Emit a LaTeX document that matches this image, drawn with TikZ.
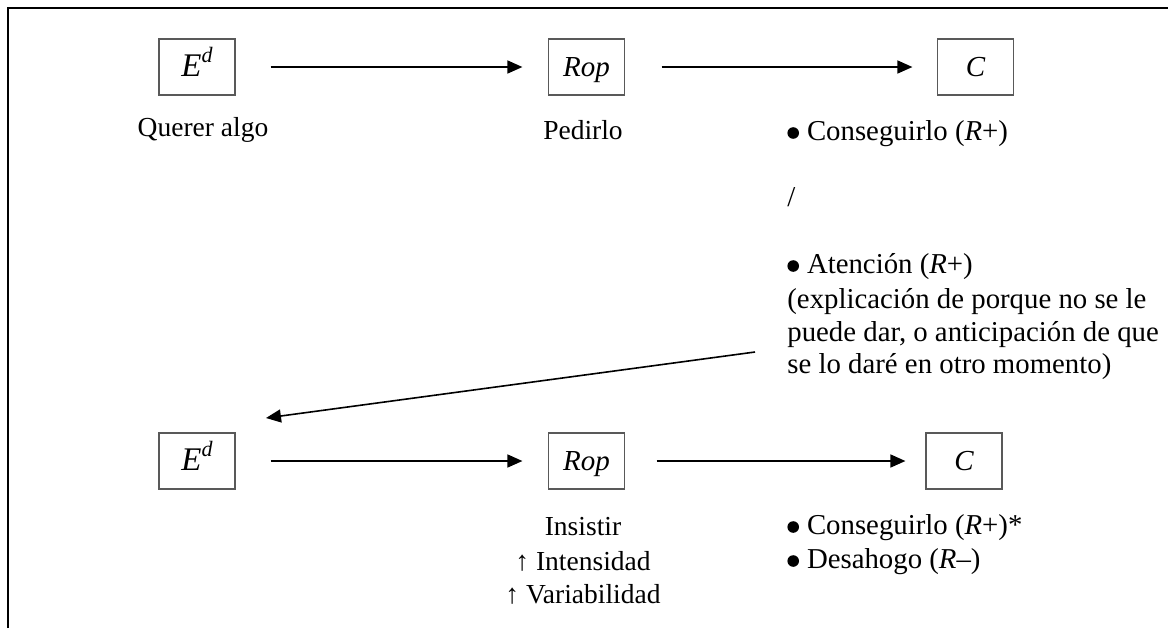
\documentclass[tikz,border=0pt]{standalone}
\usepackage{fontspec}
\setmainfont{Liberation Serif}
\usetikzlibrary{arrows.meta}

\newcommand{\Edes}{{\fontsize{16.5}{18}\selectfont E\raisebox{0.42em}{\fontsize{11}{12}\selectfont d}}}
% round list bullet followed by its gap
\newcommand{\blt}{\tikz[baseline=0pt,x=1pt,y=1pt]\fill (2.9,3.5) circle[radius=2.9];\hspace{4pt}}

\begin{document}
\begin{tikzpicture}[x=0.5pt,y=-0.5pt,
  stage/.style={draw=black!65, line width=0.6pt, minimum width=38pt, minimum height=28pt,
    inner sep=0pt, text height=9pt, text depth=0pt, font=\fontsize{14.5}{16}\selectfont\itshape},
  txt/.style={inner sep=0pt, font=\fontsize{13.75}{16}\selectfont},
  rtxt/.style={inner sep=0pt, anchor=base west, font=\fontsize{14.4}{16}\selectfont},
  flow/.style={line width=0.8pt, -{Triangle[length=7.5pt,width=6.5pt]}}
]
\useasboundingbox (0,0) rectangle (1168,628);
% frame
\draw[line width=1.2pt] (8,628) -- (8,8) -- (1168,8);

% first sequence
\node[stage] (e1) at (197,67) {\Edes};
\node[stage] (r1) at (586.5,67) {Rop};
\node[stage] (c1) at (975.5,67) {C};

\node[txt, anchor=base] (q1) at (203,136) {Querer algo};
\node[txt, anchor=base] (p1) at (583,139) {Pedirlo};
\node[rtxt] (o1) at (787,140) {\blt Conseguirlo (\textit{R}+)};
\node[rtxt] (sl) at (787,206) {/};
\node[rtxt] (o2) at (787,273) {\blt Atención (\textit{R}+)};
\node[rtxt] (o2a) at (787,308) {(explicación de porque no se le};
\node[rtxt] (o2b) at (787,341) {puede dar, o anticipación de que};
\node[rtxt] (o2c) at (787,373) {se lo daré en otro momento)};

\draw[flow, shorten <=17.5pt, shorten >=12.75pt] (e1.east) -- (r1.west);
\draw[flow, shorten <=18.25pt, shorten >=12.25pt] (r1.east) -- (c1.west);

% second sequence
\node[stage] (e2) at (197,461) {\Edes};
\node[stage] (r2) at (586.5,461) {Rop};
\node[stage] (c2) at (964,461) {C};

\node[txt, anchor=base] (i1) at (583,535) {Insistir};
\node[txt, anchor=base] (i2) at (583,570) {↑ Intensidad};
\node[txt, anchor=base] (i3) at (583,603) {↑ Variabilidad};
\node[rtxt] (k1) at (787,534) {\blt Conseguirlo (\textit{R}+)*};
\node[rtxt] (k2) at (787,568) {\blt Desahogo (\textit{R}–)};

\draw[flow, shorten <=17.5pt, shorten >=12.75pt] (e2.east) -- (r2.west);
\draw[flow, shorten <=15.75pt, shorten >=10pt] (r2.east) -- (c2.west);

% return to the start of the second sequence
\coordinate (back0) at (755,352);
\coordinate (back1) at (266,418);
\draw[flow] (back0) -- (back1);
\end{tikzpicture}
\end{document}
